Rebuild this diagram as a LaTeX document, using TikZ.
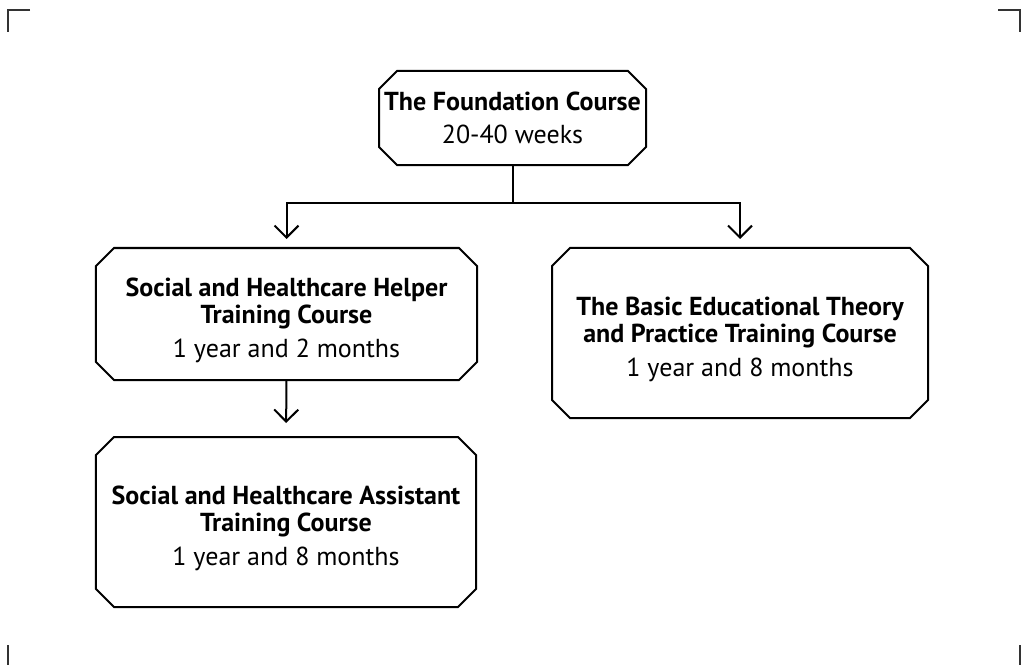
\documentclass[tikz,border=0pt]{standalone}
\usepackage{fontspec}
\setmainfont{PT Sans}
\usetikzlibrary{arrows.meta}
\newcommand{\bl}[1]{{\bfseries #1}}
\newcommand{\st}{\rule{0pt}{32bp}}
\newcommand{\chamf}[1]{%
  \draw[boxline] ([xshift=18bp]#1.north west) -- ([xshift=-18bp]#1.north east)
    -- ([yshift=-18bp]#1.north east) -- ([yshift=18bp]#1.south east)
    -- ([xshift=-18bp]#1.south east) -- ([xshift=18bp]#1.south west)
    -- ([yshift=18bp]#1.south west) -- ([yshift=-18bp]#1.north west) -- cycle;}
\begin{document}
\begin{tikzpicture}[x=1bp,y=-1bp,
  box/.style={rectangle, outer sep=0pt, align=center, inner sep=0pt,
    font=\fontsize{26bp}{27bp}\selectfont},
  boxline/.style={line width=2bp, line join=miter},
  conn/.style={line width=2bp},
  arr/.style={line width=2bp, -{Straight Barb[length=12bp,width=24bp]}},
  crop/.style={line width=1.5bp, black!80}]
\useasboundingbox (0,0) rectangle (1021,665);
% crop marks
\draw[crop] (30,10) -- (8,10) -- (8,32);
\draw[crop] (998,10) -- (1020,10) -- (1020,32);
\draw[crop] (8,645) -- (8,665);
\draw[crop] (1020,645) -- (1020,665);
% nodes
\node[box, minimum width=267bp, minimum height=94bp] (top) at (512.5,118)
  {\bl{The Foundation Course}\\[6bp] 20-40 weeks};
\node[box, minimum width=381bp, minimum height=132bp] (b1) at (286.5,314)
  {\st\bl{Social and Healthcare Helper}\\\bl{Training Course}\\[7bp] 1 year and 2 months};
\node[box, minimum width=380bp, minimum height=170bp] (b2) at (286,522)
  {\st\bl{Social and Healthcare Assistant}\\\bl{Training Course}\\[7bp] 1 year and 8 months};
\node[box, minimum width=376bp, minimum height=170bp] (r) at (740,333)
  {\st\bl{The Basic Educational Theory}\\\bl{and Practice Training Course}\\[7bp] 1 year and 8 months};
\chamf{top}
\chamf{b1}
\chamf{b2}
\chamf{r}
% connectors
\coordinate (j) at (512.5,203);
\draw[conn] (top.south) -- (j);
\draw[arr, shorten >=9bp] (j) -| (b1.north);
\draw[arr, shorten >=9bp] (j) -| (r.north);
\draw[arr, shorten >=14bp] (b1.south) -- (b2.north);
\end{tikzpicture}
\end{document}
